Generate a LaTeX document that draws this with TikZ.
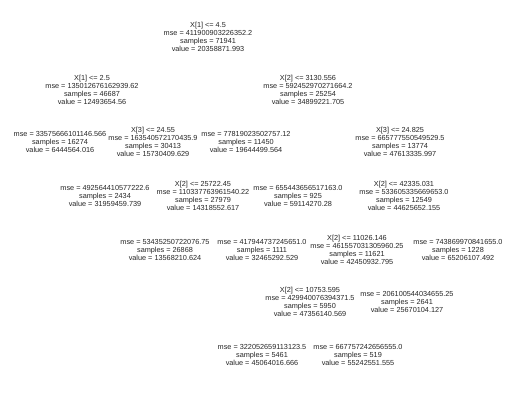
\documentclass[tikz,border=0pt]{standalone}
\usepackage{fontspec}
\setmainfont{Liberation Sans}
\begin{document}
\begin{tikzpicture}[x=1pt,y=-1pt,
  treenode/.style={align=center,inner sep=0pt,font=\fontsize{7.3}{8}\selectfont,text=black!85}]
\useasboundingbox[fill=white] (0,0) rectangle (520,401);
\node[treenode] (n0) at (208,37) {X[1] <= 4.5\\mse = 411900903226352.2\\samples = 71941\\value = 20358871.993};
\node[treenode] (n1) at (92,90) {X[1] <= 2.5\\mse = 135012676162939.62\\samples = 46687\\value = 12493654.56};
\node[treenode] (n2) at (308,90) {X[2] <= 3130.556\\mse = 592452970271664.2\\samples = 25254\\value = 34899221.705};
\node[treenode] (n3) at (60,142) {mse = 33575666101146.566\\samples = 16274\\value = 6444564.016};
\node[treenode] (n4) at (153,142) {X[3] <= 24.55\\mse = 163540572170435.9\\samples = 30413\\value = 15730409.629};
\node[treenode] (n5) at (246,142) {mse = 77819023502757.12\\samples = 11450\\value = 19644499.564};
\node[treenode] (n6) at (400,142) {X[3] <= 24.825\\mse = 665777550549529.5\\samples = 13774\\value = 47613335.997};
\node[treenode] (n7) at (105,196) {mse = 492564410577222.6\\samples = 2434\\value = 31959459.739};
\node[treenode] (n8) at (203,196) {X[2] <= 25722.45\\mse = 110337763961540.22\\samples = 27979\\value = 14318552.617};
\node[treenode] (n9) at (298,196) {mse = 655443656517163.0\\samples = 925\\value = 59114270.28};
\node[treenode] (n10) at (404,196) {X[2] <= 42335.031\\mse = 533605335669653.0\\samples = 12549\\value = 44625652.155};
\node[treenode] (n11) at (165,250) {mse = 53435250722076.75\\samples = 26868\\value = 13568210.624};
\node[treenode] (n12) at (262,250) {mse = 417944737245651.0\\samples = 1111\\value = 32465292.529};
\node[treenode] (n13) at (357,250) {X[2] <= 11026.146\\mse = 461557031305960.25\\samples = 11621\\value = 42450932.795};
\node[treenode] (n14) at (458,250) {mse = 743869970841655.0\\samples = 1228\\value = 65206107.492};
\node[treenode] (n15) at (310,302) {X[2] <= 10753.595\\mse = 429940076394371.5\\samples = 5950\\value = 47356140.569};
\node[treenode] (n16) at (407,302) {mse = 206100544034655.25\\samples = 2641\\value = 25670104.127};
\node[treenode] (n17) at (262,355) {mse = 322052659113123.5\\samples = 5461\\value = 45064016.666};
\node[treenode] (n18) at (358,355) {mse = 667757242656555.0\\samples = 519\\value = 55242551.555};
\end{tikzpicture}
\end{document}
